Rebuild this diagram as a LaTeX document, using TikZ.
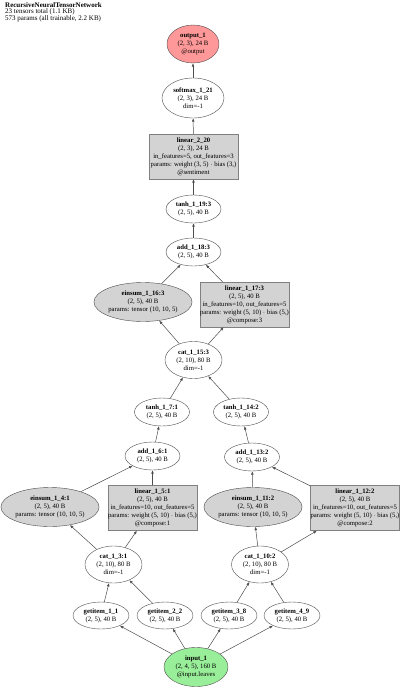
\documentclass[tikz,border=0pt]{standalone}
\usepackage{fontspec}
\setmainfont{Liberation Serif}
\usepackage{tikz}
\usetikzlibrary{shapes.geometric,arrows.meta}
\definecolor{outred}{HTML}{FF9999}
\definecolor{ingreen}{HTML}{99EE99}
\definecolor{opgray}{HTML}{D3D3D3}
\definecolor{edgegray}{HTML}{4D4D4D}

\begin{document}
\begin{tikzpicture}[
  x=1pt, y=-1pt,
  font=\fontsize{6.7}{8}\selectfont,
  >={Latex[length=3.5pt,width=2.8pt]},
  op/.style    ={ellipse, draw=edgegray, fill=white, inner sep=0pt, align=center},
  small/.style ={op, minimum width=55pt, minimum height=28pt},
  tall/.style  ={op, minimum width=57pt, minimum height=37pt},
  tensor/.style={op, fill=opgray, minimum width=98pt, minimum height=39pt},
  layer/.style ={rectangle, draw=black!50, fill=opgray, inner sep=0pt, align=center, minimum width=89pt, minimum height=45pt},
  flow/.style  ={->, draw=edgegray, line width=0.5pt},
]
\useasboundingbox (0,0) rectangle (400,688);
% header
\node[anchor=north west, align=left, inner sep=0pt, font=\fontsize{7}{6}\selectfont] (title) at (5,2)
  {\textbf{RecursiveNeuralTensorNetwork}\\23 tensors total (1.1 KB)\\573 params (all trainable, 2.2 KB)};
% top of the tree
\node[tall, fill=outred, minimum width=52pt, minimum height=38pt] (out) at (193,44) {\textbf{output\_1}\\(2, 3), 24 B\\@output};
\node[tall, minimum width=62pt, minimum height=40pt] (soft) at (193,98) {\textbf{softmax\_1\_21}\\(2, 3), 24 B\\dim=-1};
\node[layer] (lin20) at (193.5,156.5) {\textbf{linear\_2\_20}\\(2, 3), 24 B\\in\_features=5, out\_features=3\\params: weight (3, 5) $\cdot$ bias (3,)\\@sentiment};
\node[small] (tanh19) at (193.5,209) {\textbf{tanh\_1\_19:3}\\(2, 5), 40 B};
\node[small] (add18) at (193.5,252) {\textbf{add\_1\_18:3}\\(2, 5), 40 B};
\node[tensor] (ein16) at (143,302) {\textbf{einsum\_1\_16:3}\\(2, 5), 40 B\\params: tensor (10, 10, 5)};
\node[layer] (lin17) at (244.5,304.5) {\textbf{linear\_1\_17:3}\\(2, 5), 40 B\\in\_features=10, out\_features=5\\params: weight (5, 10) $\cdot$ bias (5,)\\@compose:3};
\node[tall] (cat15) at (193.5,360) {\textbf{cat\_1\_15:3}\\(2, 10), 80 B\\dim=-1};
% left branch
\node[small] (tanh7) at (162,412) {\textbf{tanh\_1\_7:1}\\(2, 5), 40 B};
\node[small] (add6) at (152.5,456) {\textbf{add\_1\_6:1}\\(2, 5), 40 B};
\node[tensor] (ein4) at (50,507) {\textbf{einsum\_1\_4:1}\\(2, 5), 40 B\\params: tensor (10, 10, 5)};
\node[layer] (lin5) at (152.5,508) {\textbf{linear\_1\_5:1}\\(2, 5), 40 B\\in\_features=10, out\_features=5\\params: weight (5, 10) $\cdot$ bias (5,)\\@compose:1};
\node[tall] (cat3) at (113.5,564.5) {\textbf{cat\_1\_3:1}\\(2, 10), 80 B\\dim=-1};
% right branch
\node[small] (tanh14) at (241,412) {\textbf{tanh\_1\_14:2}\\(2, 5), 40 B};
\node[small] (add13) at (252,457) {\textbf{add\_1\_13:2}\\(2, 5), 40 B};
\node[tensor] (ein11) at (253,507) {\textbf{einsum\_1\_11:2}\\(2, 5), 40 B\\params: tensor (10, 10, 5)};
\node[layer] (lin12) at (355,508) {\textbf{linear\_1\_12:2}\\(2, 5), 40 B\\in\_features=10, out\_features=5\\params: weight (5, 10) $\cdot$ bias (5,)\\@compose:2};
\node[tall] (cat10) at (260,564.5) {\textbf{cat\_1\_10:2}\\(2, 10), 80 B\\dim=-1};
% leaves
\node[small, minimum width=56pt, minimum height=27pt] (get1) at (101,615.5) {\textbf{getitem\_1\_1}\\(2, 5), 40 B};
\node[small, minimum width=56pt, minimum height=27pt] (get2) at (165,615.5) {\textbf{getitem\_2\_2}\\(2, 5), 40 B};
\node[small, minimum width=56pt, minimum height=27pt] (get8) at (229,615.5) {\textbf{getitem\_3\_8}\\(2, 5), 40 B};
\node[small, minimum width=56pt, minimum height=27pt] (get9) at (292,615.5) {\textbf{getitem\_4\_9}\\(2, 5), 40 B};
\node[tall, fill=ingreen, minimum width=64pt, minimum height=39pt] (inp) at (196,667) {\textbf{input\_1}\\(2, 4, 5), 160 B\\@input.leaves};
% arrows
\draw[flow] (inp) -- (get1);  \draw[flow] (inp) -- (get2);  \draw[flow] (inp) -- (get8);  \draw[flow] (inp) -- (get9);
\draw[flow] (get1) -- (cat3); \draw[flow] (get2) -- (cat3); \draw[flow] (get8) -- (cat10); \draw[flow] (get9) -- (cat10);
\draw[flow] (cat3) -- (ein4); \draw[flow] (cat3) -- (lin5); \draw[flow] (cat10) -- (ein11); \draw[flow] (cat10) -- (lin12);
\draw[flow] (ein4) -- (add6); \draw[flow] (lin5) -- (add6); \draw[flow] (ein11) -- (add13); \draw[flow] (lin12) -- (add13);
\draw[flow] (add6) -- (tanh7); \draw[flow] (add13) -- (tanh14);
\draw[flow] (tanh7) -- (cat15); \draw[flow] (tanh14) -- (cat15);
\draw[flow] (cat15) -- (ein16); \draw[flow] (cat15) -- (lin17);
\draw[flow] (ein16) -- (add18); \draw[flow] (lin17) -- (add18);
\draw[flow] (add18) -- (tanh19);
\draw[flow] (tanh19) -- (lin20);
\draw[flow] (lin20) -- (soft);
\draw[flow] (soft) -- (out);
\end{tikzpicture}
\end{document}
